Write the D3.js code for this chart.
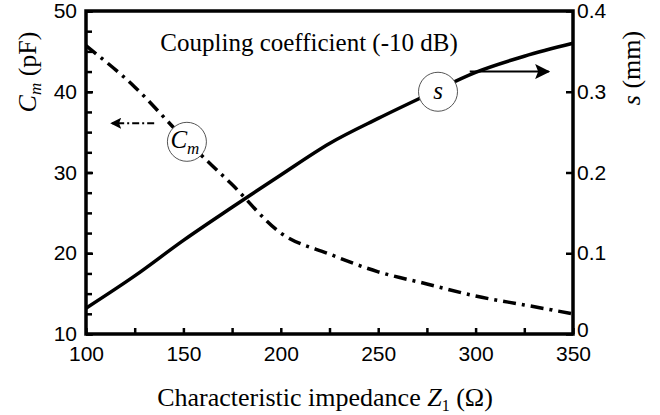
<!DOCTYPE html>
<html>
<head>
<meta charset="utf-8">
<script src="https://cdn.jsdelivr.net/npm/d3@7"></script>
<style>
  body { margin: 0; background: #fff; }
  .tick text { font-family: "Liberation Sans", Arial, sans-serif; font-size: 21px; fill: #000; }
  .serif { font-family: "Liberation Serif", "Times New Roman", serif; fill: #000; }
</style>
</head>
<body>
<script>
// impedance Z1 (ohm)
var zVals = [100, 125, 150, 175, 200, 225, 250, 275, 300, 325, 350];
// coupling capacitance Cm (pF), left axis
var cmVals = [45.7, 40.6, 34.3, 28.5, 22.5, 19.9, 17.7, 16.2, 14.7, 13.6, 12.5];
// spacing s (mm), right axis
var sVals = [0.032, 0.072, 0.116, 0.157, 0.197, 0.236, 0.267, 0.296, 0.324, 0.344, 0.360];

var xTicks = [100, 150, 200, 250, 300, 350];
var leftTicks = [10, 20, 30, 40, 50];
var rightTicks = [0, 0.1, 0.2, 0.3, 0.4];

var W = 660, H = 415;
var margin = {top: 11, right: 87, bottom: 81, left: 86};
var width = W - margin.left - margin.right,
    height = H - margin.top - margin.bottom;

var x = d3.scaleLinear().domain([100, 350]).range([0, width]);
var yL = d3.scaleLinear().domain([10, 50]).range([height, 0]);
var yR = d3.scaleLinear().domain([0, 0.4]).range([height, 0]);

var svg = d3.select("body").append("svg")
    .attr("width", W)
    .attr("height", H);

var defs = svg.append("defs");
function addHead(id, size) {
    defs.append("marker")
        .attr("id", id)
        .attr("viewBox", "0 0 10 10")
        .attr("refX", 9).attr("refY", 5)
        .attr("markerWidth", size).attr("markerHeight", size)
        .attr("markerUnits", "strokeWidth")
        .attr("orient", "auto")
      .append("path")
        .attr("d", "M0,0 L10,5 L0,10 L2,5 z")
        .attr("fill", "#000");
}
addHead("headS", 7.5);
addHead("headC", 5.5);

var g = svg.append("g")
    .attr("transform", "translate(" + margin.left + "," + margin.top + ")");

// -- data lines --
var cmLine = d3.line()
    .x(function(d, i) { return x(zVals[i]); })
    .y(function(d) { return yL(d); })
    .curve(d3.curveMonotoneX);

var sLine = d3.line()
    .x(function(d, i) { return x(zVals[i]); })
    .y(function(d) { return yR(d); })
    .curve(d3.curveMonotoneX);

g.append("path")
    .datum(sVals)
    .attr("d", sLine)
    .attr("fill", "none")
    .attr("stroke", "#000")
    .attr("stroke-width", 3.5);

g.append("path")
    .datum(cmVals)
    .attr("d", cmLine)
    .attr("fill", "none")
    .attr("stroke", "#000")
    .attr("stroke-width", 3.5)
    .attr("stroke-dasharray", "13,6,3,6");

// -- axes --
function styleAxis(sel) {
    sel.select(".domain").remove();
    sel.selectAll(".tick line").attr("stroke", "#000").attr("stroke-width", 2.5);
}

g.append("g")
    .attr("transform", "translate(0," + height + ")")
    .call(d3.axisBottom(x).tickValues(d3.range(100, 351, 25)).tickFormat("").tickSize(-6))
    .call(styleAxis);

g.append("g")
    .attr("transform", "translate(0," + height + ")")
    .call(d3.axisBottom(x).tickValues(xTicks).tickSize(0).tickPadding(12))
    .call(styleAxis);

g.append("g")
    .call(d3.axisLeft(yL).tickValues(d3.range(10, 50.1, 2.5)).tickFormat("").tickSize(-6))
    .call(styleAxis);

g.append("g")
    .call(d3.axisLeft(yL).tickValues(leftTicks).tickSize(-7).tickPadding(9))
    .call(styleAxis);

var rAxis = g.append("g")
    .attr("transform", "translate(" + width + ",0)")
    .call(d3.axisRight(yR).tickValues(rightTicks).tickSize(-7).tickPadding(4).tickFormat(d3.format("")))
    .call(styleAxis);
// the zero label sits a little higher, clear of "350"
rAxis.selectAll(".tick text").filter(function(d) { return d === 0; }).attr("y", -4);

// frame
g.append("rect")
    .attr("width", width)
    .attr("height", height)
    .attr("fill", "none")
    .attr("stroke", "#000")
    .attr("stroke-width", 3.5);

// -- annotations --
g.append("text")
    .attr("class", "serif")
    .attr("x", x(214.5))
    .attr("y", 40)
    .attr("text-anchor", "middle")
    .style("font-size", "25px")
    .text("Coupling coefficient (-10 dB)");

// Cm arrow (left)
g.append("line")
    .attr("x1", x(135)).attr("y1", yL(36.1))
    .attr("x2", x(113)).attr("y2", yL(36.1))
    .attr("stroke", "#000")
    .attr("stroke-width", 2)
    .attr("stroke-dasharray", "7,3,2,3")
    .attr("marker-end", "url(#headC)");

// s arrow (right)
g.append("line")
    .attr("x1", x(297)).attr("y1", yR(0.325))
    .attr("x2", x(337.5)).attr("y2", yR(0.325))
    .attr("stroke", "#000")
    .attr("stroke-width", 2)
    .attr("marker-end", "url(#headS)");

var cmLab = g.append("g").attr("transform", "translate(" + x(151.8) + "," + yL(33.8) + ")");
cmLab.append("circle").attr("r", 19.5).attr("fill", "#fff").attr("stroke", "#555").attr("stroke-width", 1);
var cmT = cmLab.append("text").attr("class", "serif")
    .attr("text-anchor", "middle").attr("y", 6)
    .style("font-size", "25px").style("font-style", "italic");
cmT.append("tspan").attr("dx", -2).text("C");
cmT.append("tspan").attr("dy", 6).style("font-size", "17px").text("m");

var sLab = g.append("g").attr("transform", "translate(" + x(280.7) + "," + yR(0.300) + ")");
sLab.append("circle").attr("r", 19.5).attr("fill", "#fff").attr("stroke", "#555").attr("stroke-width", 1);
sLab.append("text").attr("class", "serif")
    .attr("text-anchor", "middle").attr("y", 7)
    .style("font-size", "25px").style("font-style", "italic")
    .text("s");

// -- axis titles --
var lt = svg.append("text").attr("class", "serif")
    .attr("transform", "translate(36,72) rotate(-90)")
    .attr("text-anchor", "middle")
    .style("font-size", "26px");
lt.append("tspan").style("font-style", "italic").text("C");
lt.append("tspan").style("font-style", "italic").style("font-size", "17px").attr("dy", 5).text("m");
lt.append("tspan").attr("dy", -5).text(" (pF)");

var rt = svg.append("text").attr("class", "serif")
    .attr("transform", "translate(640,68) rotate(-90)")
    .attr("text-anchor", "middle")
    .style("font-size", "26px");
rt.append("tspan").style("font-style", "italic").text("s");
rt.append("tspan").text(" (mm)");

var xt = svg.append("text").attr("class", "serif")
    .attr("x", 325).attr("y", 406)
    .attr("text-anchor", "middle")
    .style("font-size", "26px");
xt.append("tspan").text("Characteristic impedance ");
xt.append("tspan").style("font-style", "italic").text("Z");
xt.append("tspan").style("font-size", "16px").attr("dy", 5).text("1");
xt.append("tspan").attr("dy", -5).text(" (\u03A9)");
</script>
</body>
</html>
